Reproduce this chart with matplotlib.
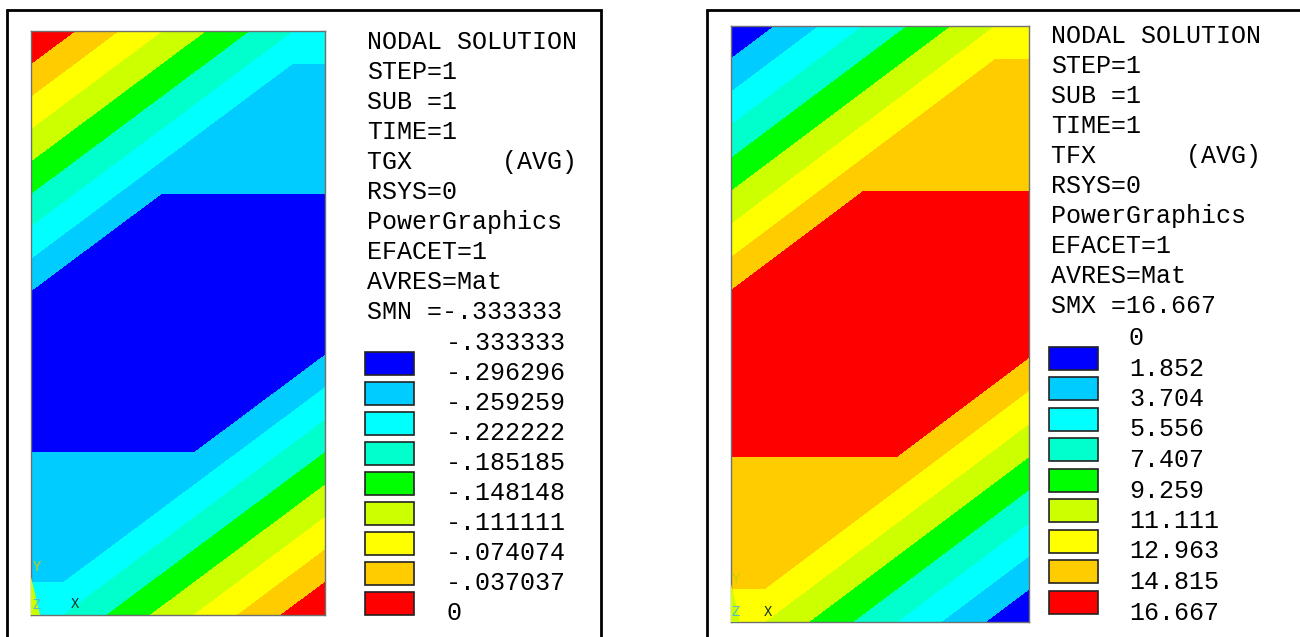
"""Two ANSYS-style nodal solution plots: TGX and TFX on a 1 x 2 plate."""

import matplotlib

matplotlib.use("Agg")

import matplotlib.pyplot as plt
import matplotlib.tri as mtri
from matplotlib.patches import Polygon, Rectangle

# ---------------------------------------------------------------------------
# Data
# ---------------------------------------------------------------------------

# Mesh: two unit squares stacked, each split along a diagonal
NODE_X = [0.0, 1.0, 0.0, 1.0, 0.0, 1.0]
NODE_Y = [0.0, 0.0, 1.0, 1.0, 2.0, 2.0]
TRIANGLES = [[0, 1, 3], [0, 3, 2], [2, 3, 5], [2, 5, 4]]

# Nodal values
TGX_VALUES = [-0.25, 0.0, -0.333333, -0.333333, 0.0, -0.25]
TFX_VALUES = [12.5, 0.0, 16.667, 16.667, 0.0, 12.5]

TGX_LEVELS = [-0.333333, -0.296296, -0.259259, -0.222222, -0.185185,
              -0.148148, -0.111111, -0.074074, -0.037037, 0.0]
TGX_LABELS = ["-.333333", "-.296296", "-.259259", "-.222222", "-.185185",
              "-.148148", "-.111111", "-.074074", "-.037037", "0"]

TFX_LEVELS = [0.0, 1.852, 3.704, 5.556, 7.407, 9.259, 11.111, 12.963, 14.815, 16.667]
TFX_LABELS = ["0", "1.852", "3.704", "5.556", "7.407", "9.259",
              "11.111", "12.963", "14.815", "16.667"]

BAND_COLORS = ["#0000FF", "#00CCFF", "#00FFFF", "#00FFCC", "#00FF00",
               "#CCFF00", "#FFFF00", "#FFCC00", "#FF0000"]

TGX_HEADER = ["NODAL SOLUTION", "STEP=1", "SUB =1", "TIME=1", "TGX      (AVG)",
              "RSYS=0", "PowerGraphics", "EFACET=1", "AVRES=Mat", "SMN =-.333333"]
TFX_HEADER = ["NODAL SOLUTION", "STEP=1", "SUB =1", "TIME=1", "TFX      (AVG)",
              "RSYS=0", "PowerGraphics", "EFACET=1", "AVRES=Mat", "SMX =16.667"]

# ---------------------------------------------------------------------------
# Layout (pixels, figure is 1300 x 637)
# ---------------------------------------------------------------------------

W, H = 1300, 637
FONT = "Liberation Mono"
FS = 18

PANELS = [
    dict(values=TGX_VALUES, levels=TGX_LEVELS, labels=TGX_LABELS, header=TGX_HEADER,
         box=(31, 31, 325, 615), text_x=367, head_y=42, lab_x=446, lab_y=343,
         sw_x=365, sw_y=363, step=30.0,
         triad=((37, 567), (37, 605), (75, 604)), wedge_color="#CCFF00"),
    dict(values=TFX_VALUES, levels=TFX_LEVELS, labels=TFX_LABELS, header=TFX_HEADER,
         box=(731, 26, 1029, 622), text_x=1051, head_y=36, lab_x=1129, lab_y=338,
         sw_x=1049, sw_y=358, step=30.5,
         triad=((736, 579), (736, 612), (768, 612)), wedge_color="#CCFF00"),
]


def main() -> None:
    fig = plt.figure(figsize=(W / 100, H / 100), dpi=100)
    fig.patch.set_facecolor("white")

    tri = mtri.Triangulation(NODE_X, NODE_Y, TRIANGLES)

    # Contour plots
    for p in PANELS:
        x0, y0, x1, y1 = p["box"]
        ax = fig.add_axes([x0 / W, (H - y1) / H, (x1 - x0) / W, (y1 - y0) / H])
        ax.tricontourf(tri, p["values"], levels=p["levels"], colors=BAND_COLORS)
        ax.set_xlim(0, 1)
        ax.set_ylim(0, 2)
        ax.set_xticks([])
        ax.set_yticks([])
        for s in ax.spines.values():
            s.set_color("#707070")
            s.set_linewidth(1.0)

    # Overlay axes in pixel coordinates for frames, text, swatches and triads
    ov = fig.add_axes([0, 0, 1, 1])
    ov.set_xlim(0, W)
    ov.set_ylim(H, 0)
    ov.axis("off")
    ov.patch.set_alpha(0)
    ov.set_zorder(10)

    # Panel frames (bottom edges fall outside the picture)
    ov.plot([7, 7, 601, 601], [H + 20, 10, 10, H + 20], color="black", lw=2.0,
            solid_joinstyle="miter")
    ov.plot([707, 707, W + 20], [H + 20, 10, 10], color="black", lw=2.0,
            solid_joinstyle="miter")

    for p in PANELS:
        x0, y0, x1, y1 = p["box"]

        # Header block
        for i, line in enumerate(p["header"]):
            ov.text(p["text_x"], p["head_y"] + 30 * i, line, family=FONT, fontsize=FS,
                    va="center", ha="left", color="black")

        # Legend labels and swatches
        for i, lab in enumerate(p["labels"]):
            ov.text(p["lab_x"], p["lab_y"] + p["step"] * i, lab, family=FONT, fontsize=FS,
                    va="center", ha="left", color="black")
        for i, c in enumerate(BAND_COLORS):
            cy = p["sw_y"] + p["step"] * i
            ov.add_patch(Rectangle((p["sw_x"], cy - 11.5), 49, 23, facecolor=c,
                                   edgecolor="#222222", lw=1.2))

        # Axis triad
        ov.add_patch(Polygon([(x0, y1 - 38), (x0, y1), (x0 + 9, y1)], closed=True,
                             facecolor=p["wedge_color"], edgecolor="none"))
        (yx, yy), (zx, zy), (xx, xy) = p["triad"]
        ov.text(yx, yy, "Y", family=FONT, fontsize=10, color="#CCCC00",
                va="center", ha="center")
        ov.text(zx, zy, "Z", family=FONT, fontsize=10, color="#55BBCC",
                va="center", ha="center")
        ov.text(xx, xy, "X", family=FONT, fontsize=10, color="#113322",
                va="center", ha="center")

    fig.savefig("out.png", dpi=100)


if __name__ == "__main__":
    main()
